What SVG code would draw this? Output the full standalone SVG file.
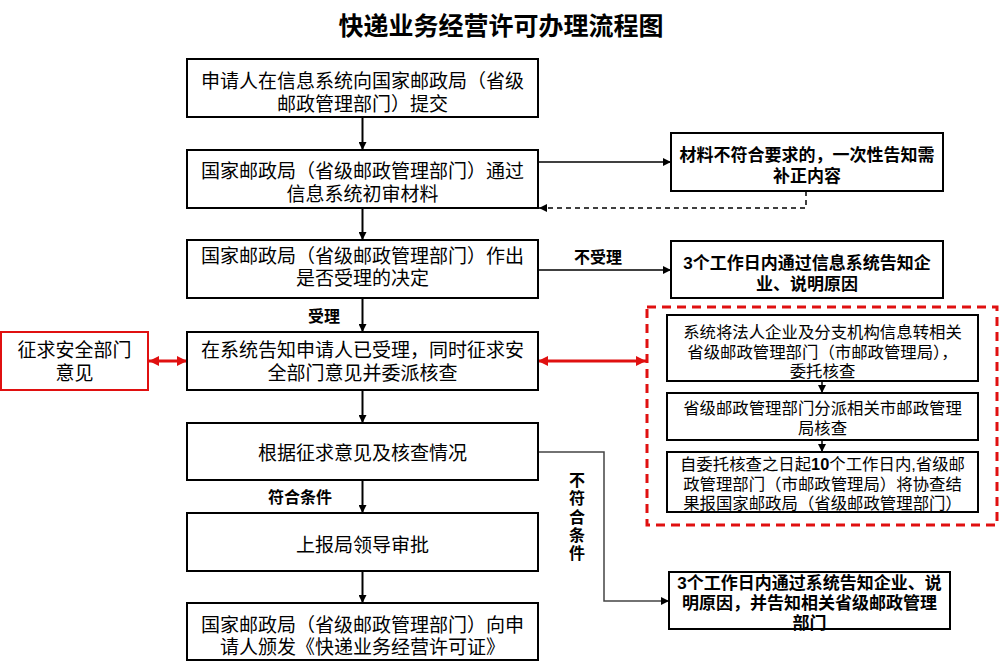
<svg xmlns="http://www.w3.org/2000/svg" width="1000" height="664" viewBox="0 0 1000 664">
<style>
.box{fill:#fff;stroke:#000;stroke-width:2}
.rbox{fill:#fff;stroke:#e01010;stroke-width:2}
.t{font-family:"Liberation Sans","Noto Sans CJK SC",sans-serif;font-size:19px;text-anchor:middle;fill:#000}
.tb{font-family:"Liberation Sans","Noto Sans CJK SC",sans-serif;font-size:17px;font-weight:bold;text-anchor:middle;fill:#000}
.ts{font-family:"Liberation Sans","Noto Sans CJK SC",sans-serif;font-size:16.4px;text-anchor:middle;fill:#000}
.lb{font-family:"Liberation Sans","Noto Sans CJK SC",sans-serif;font-size:16px;font-weight:bold;text-anchor:middle;fill:#000}
.title{font-family:"Liberation Sans","Noto Sans CJK SC",sans-serif;font-size:25px;font-weight:bold;text-anchor:middle;fill:#000}
.c{fill:none;stroke:#000;stroke-width:2}
.c1{fill:none;stroke:#000;stroke-width:1.5}
.cd{fill:none;stroke:#000;stroke-width:1.5;stroke-dasharray:5 4}
.cg{fill:none;stroke:#444;stroke-width:1.5}
.cr{fill:none;stroke:#e01010;stroke-width:3}
</style>
<defs>
<marker id="ah" viewBox="0 0 10 10" refX="10" refY="5" markerWidth="8" markerHeight="8" markerUnits="userSpaceOnUse" orient="auto"><path d="M0,0 L10,5 L0,10 z" fill="#000"/></marker>
<marker id="ahr" viewBox="0 0 10 10" refX="10" refY="5" markerWidth="10" markerHeight="10" markerUnits="userSpaceOnUse" orient="auto-start-reverse"><path d="M0,0 L10,5 L0,10 z" fill="#e01010"/></marker>
</defs>
<rect width="1000" height="664" fill="#fff"/>
<text class="title" x="501" y="35">快递业务经营许可办理流程图</text>

<g id="connectors">
<path class="c" d="M362.5,117 V150" marker-end="url(#ah)"/>
<path class="c" d="M362.5,208 V240" marker-end="url(#ah)"/>
<path class="c" d="M362.5,298 V332" marker-end="url(#ah)"/>
<path class="c" d="M362.5,390 V423" marker-end="url(#ah)"/>
<path class="c" d="M362.5,480 V513" marker-end="url(#ah)"/>
<path class="c" d="M362.5,571 V603" marker-end="url(#ah)"/>
<path class="c1" d="M538,162 H671" marker-end="url(#ah)"/>
<path class="cd" d="M806,191 V208 H539" marker-end="url(#ah)"/>
<path class="c1" d="M538,270 H671" marker-end="url(#ah)"/>
<path class="cr" d="M149,361 H187" marker-start="url(#ahr)" marker-end="url(#ahr)"/>
<path class="cr" d="M538,361 H646" marker-start="url(#ahr)" marker-end="url(#ahr)"/>
<path class="cg" d="M538,452 H604 V601 H669" marker-end="url(#ah)"/>
<path class="c1" d="M822,381 V393" marker-end="url(#ah)"/>
<path class="c1" d="M822,440 V452" marker-end="url(#ah)"/>
<text class="lb" x="598" y="263">不受理</text>
<text class="lb" x="324" y="322" font-size="15">受理</text>
<text class="lb" x="300" y="503">符合条件</text>
<text class="lb" x="577" y="486">不</text>
<text class="lb" x="577" y="504">符</text>
<text class="lb" x="577" y="523">合</text>
<text class="lb" x="577" y="541">条</text>
<text class="lb" x="577" y="559">件</text>
</g>

<g id="n1"><rect class="box" x="187" y="59" width="351" height="58"/>
<text class="t" x="362.5" y="88">申请人在信息系统向国家邮政局（省级</text>
<text class="t" x="362.5" y="111">邮政管理部门）提交</text></g>

<g id="n2"><rect class="box" x="187" y="150" width="351" height="58"/>
<text class="t" x="362.5" y="178">国家邮政局（省级邮政管理部门）通过</text>
<text class="t" x="362.5" y="201">信息系统初审材料</text></g>

<g id="n3"><rect class="box" x="187" y="240" width="351" height="58"/>
<text class="t" x="362.5" y="263">国家邮政局（省级邮政管理部门）作出</text>
<text class="t" x="362.5" y="285">是否受理的决定</text></g>

<g id="n4"><rect class="box" x="187" y="332" width="351" height="58"/>
<text class="t" x="362.5" y="357">在系统告知申请人已受理，同时征求安</text>
<text class="t" x="362.5" y="380">全部门意见并委派核查</text></g>

<g id="n5"><rect class="box" x="187" y="423" width="351" height="57"/>
<text class="t" x="362.5" y="460">根据征求意见及核查情况</text></g>

<g id="n6"><rect class="box" x="187" y="513" width="351" height="58"/>
<text class="t" x="362.5" y="552">上报局领导审批</text></g>

<g id="n7"><rect class="box" x="187" y="603" width="351" height="57"/>
<text class="t" x="362.5" y="632">国家邮政局（省级邮政管理部门）向申</text>
<text class="t" x="362.5" y="654">请人颁发《快递业务经营许可证》</text></g>

<g id="r1"><rect class="box" x="671" y="133" width="272" height="58"/>
<text class="tb" x="807" y="161">材料不符合要求的，一次性告知需</text>
<text class="tb" x="807" y="182">补正内容</text></g>

<g id="r2"><rect class="box" x="671" y="241" width="272" height="57"/>
<text class="tb" x="807" y="269">3个工作日内通过信息系统告知企</text>
<text class="tb" x="807" y="290">业、说明原因</text></g>

<g id="l1"><rect class="rbox" x="1" y="332" width="147" height="58"/>
<text class="t" x="74.5" y="357">征求安全部门</text>
<text class="t" x="74.5" y="380">意见</text></g>

<g id="group"><rect x="647" y="307" width="350" height="218" fill="none" stroke="#e01010" stroke-width="3" stroke-dasharray="9 6"/></g>

<g id="ia"><rect class="box" x="667" y="315" width="311" height="66"/>
<text class="ts" x="822.5" y="338">系统将法人企业及分支机构信息转相关</text>
<text class="ts" x="822.5" y="358">省级邮政管理部门（市邮政管理局），</text>
<text class="ts" x="822.5" y="377">委托核查</text></g>

<g id="ib"><rect class="box" x="667" y="393" width="311" height="47"/>
<text class="ts" x="822.5" y="414">省级邮政管理部门分派相关市邮政管理</text>
<text class="ts" x="822.5" y="434">局核查</text></g>

<g id="ic"><rect class="box" x="667" y="452" width="311" height="60"/>
<text class="ts" x="822.5" y="470">自委托核查之日起<tspan font-weight="bold">10</tspan>个工作日内,省级邮</text>
<text class="ts" x="822.5" y="490">政管理部门（市邮政管理局）将协查结</text>
<text class="ts" x="822.5" y="509">果报国家邮政局（省级邮政管理部门）</text></g>

<g id="r3"><rect class="box" x="669" y="572" width="281" height="57"/>
<text class="tb" x="809.5" y="589">3个工作日内通过系统告知企业、说</text>
<text class="tb" x="809.5" y="609">明原因，并告知相关省级邮政管理</text>
<text class="tb" x="809.5" y="629">部门</text></g>
</svg>
